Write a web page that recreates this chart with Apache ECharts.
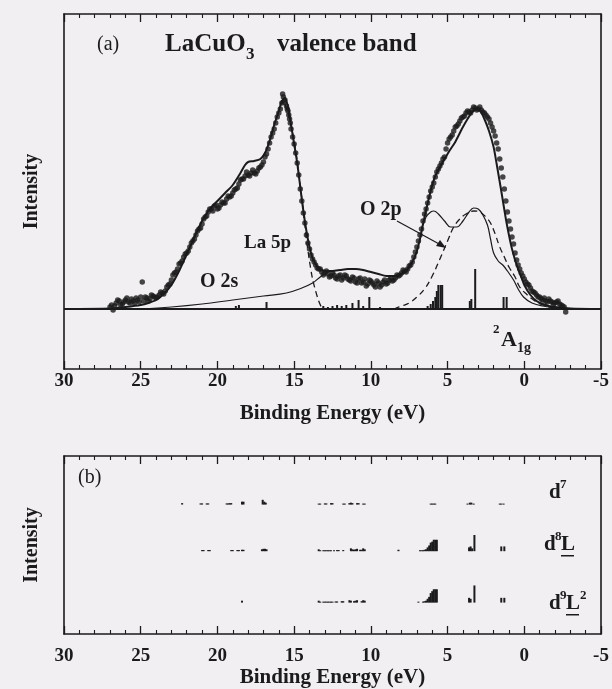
<!DOCTYPE html>
<html><head><meta charset="utf-8">
<script src="https://cdn.jsdelivr.net/npm/echarts@6/dist/echarts.min.js"></script>
<style>html,body{margin:0;padding:0;background:#f1eff1}#c{width:612px;height:689px}</style>
</head><body><div id="c"></div>
<script>
// Binding energy axis ticks (eV)
const xTicks = [30, 25, 20, 15, 10, 5, 0, -5];

// (a) experimental valence band points [E, intensity]
const expData = [
[27.0,2],[26.8,-1],[26.6,6],[26.4,8],[26.2,5],[26.0,9],[25.8,7],[25.6,10],[25.4,6],[25.2,9],[25.0,12],[24.9,27],
[24.8,8],[24.6,11],[24.4,10],[24.2,13],[24.0,11],[23.8,14],[23.6,16],[23.4,18],[23.2,24],[23.0,29],[22.8,36],
[22.6,40],[22.4,46],[22.2,52],[22.0,56],[21.8,62],[21.6,68],[21.4,74],[21.2,80],[21.0,85],[20.8,92],[20.6,97],
[20.4,100],[20.2,103],[20.0,100],[19.8,104],[19.6,106],[19.4,110],[19.2,112],[19.0,116],[18.8,120],[18.6,125],
[18.4,130],[18.2,133],[18.0,134],[17.8,136],[17.6,136],[17.4,138],[17.2,142],[17.0,147],[16.8,155],[16.6,166],
[16.4,176],[16.2,186],[16.0,196],[15.8,206],[15.7,212],[15.6,209],[15.5,203],[15.4,198],[15.3,190],[15.2,180],
[15.0,165],[14.8,146],[14.6,120],[14.4,96],[14.2,74],[14.0,60],[13.8,50],[13.6,44],[13.4,40],[13.2,37],[13.0,36],
[12.8,35],[12.6,33],[12.4,34],[12.2,30],[12.0,34],[11.8,31],[11.6,33],[11.4,29],[11.2,32],[11.0,27],[10.8,30],
[10.6,26],[10.4,30],[10.2,25],[10.0,28],[9.8,24],[9.6,28],[9.4,22],[9.2,27],[9.0,25],[8.8,29],[8.6,28],[8.4,31],
[8.2,33],[8.0,36],[7.8,38],[7.6,40],[7.4,44],[7.2,52],[7.0,62],[6.8,74],[6.6,88],[6.4,100],[6.2,112],[6.0,122],
[5.8,132],[5.6,140],[5.4,146],[5.2,152],[5.0,166],[4.8,172],[4.6,178],[4.4,183],[4.2,188],[4.0,192],[3.8,196],
[3.6,197],[3.4,199],[3.2,201],[3.0,200],[2.8,199],[2.6,196],[2.4,192],[2.2,186],[2.0,178],[1.8,166],[1.6,150],
[1.4,132],[1.2,108],[1.0,88],[0.8,72],[0.6,56],[0.4,44],[0.2,36],[0.0,30],[-0.2,25],[-0.4,21],[-0.6,17],
[-0.8,14],[-1.0,12],[-1.2,9],[-1.4,8],[-1.6,10],[-1.8,7],[-2.0,6],[-2.2,8],[-2.4,4],[-2.6,2],[-2.7,-3]
];
// (a) experimental points, second (interleaved) set
const expData2 = [
[26.9,4],[26.7,3],[26.5,9],[26.3,4],[26.1,7],[25.9,11],[25.7,6],[25.5,8],[25.3,11],[25.1,7],[24.7,12],[24.5,8],
[24.3,14],[24.1,12],[23.9,12],[23.7,17],[23.5,15],[23.3,22],[23.1,25],[22.9,34],[22.7,37],[22.5,45],[22.3,48],
[22.1,55],[21.9,58],[21.7,66],[21.5,70],[21.3,78],[21.1,81],[20.9,90],[20.7,93],[20.5,100],[20.3,98],[20.1,104],
[19.9,101],[19.7,107],[19.5,106],[19.3,113],[19.1,113],[18.9,119],[18.7,121],[18.5,129],[18.3,130],[18.1,137],
[17.9,133],[17.7,139],[17.5,135],[17.3,141],[17.1,144],[16.9,152],[16.7,160],[16.5,172],[16.3,180],[16.1,192],
[15.9,200],[15.75,215],[15.65,207],[15.45,200],[15.35,194],[15.25,186],[15.1,172],[14.9,156],[14.7,134],[14.5,108],
[14.3,86],[14.1,66],[13.9,54],[13.7,47],[13.5,41],[13.3,40],[13.1,34],[12.9,38],[12.7,32],[12.5,36],[12.3,31],
[12.1,33],[11.9,29],[11.7,34],[11.5,30],[11.3,28],[11.1,31],[10.9,26],[10.7,31],[10.5,27],[10.3,23],[10.1,29],
[9.9,26],[9.7,22],[9.5,26],[9.3,24],[9.1,29],[8.9,26],[8.7,31],[8.5,29],[8.3,34],[8.1,34],[7.9,39],[7.7,37],
[7.5,43],[7.3,47],[7.1,57],[6.9,68],[6.7,80],[6.5,95],[6.3,106],[6.1,118],[5.9,126],[5.7,137],[5.5,143],[5.3,150],
[5.1,160],[4.9,170],[4.7,174],[4.5,182],[4.3,185],[4.1,191],[3.9,193],[3.7,198],[3.5,196],[3.3,202],[3.1,199],
[2.9,202],[2.7,197],[2.5,194],[2.3,190],[2.1,182],[1.9,173],[1.7,160],[1.5,141],[1.3,120],[1.1,97],[0.9,80],
[0.7,65],[0.5,49],[0.3,40],[0.1,33],[-0.1,27],[-0.3,24],[-0.5,18],[-0.7,16],[-0.9,12],[-1.1,10],[-1.3,11],
[-1.5,7],[-1.7,8],[-1.9,5],[-2.1,7],[-2.3,5],[-2.5,3]
];

// (a) total calculated spectrum
const fitTotal = [
[30,0],[27,0.5],[26,2],[25,4],[24.5,6],[24,9],[23.5,15],[23,24],[22.5,38],[22,55],[21.5,72],[21,88],[20.5,100],
[20,108],[19.5,116],[19,124],[18.5,136],[18.2,144],[18.0,147],[17.6,148],[17.2,150],[16.9,156],[16.6,168],
[16.3,184],[16.0,198],[15.8,208],[15.6,211],[15.4,202],[15.2,184],[15.0,165],[14.8,146],[14.6,122],[14.4,98],
[14.2,78],[14.0,62],[13.8,51],[13.6,45],[13.4,41],[13.0,38],[12.5,38],[12.0,39],[11.5,40],[11.0,40],[10.5,39],
[10.0,37],[9.5,35],[9.0,33],[8.5,33],[8.0,35],[7.6,40],[7.2,50],[7.0,58],[6.8,70],[6.6,85],[6.4,99],[6.2,112],
[6.0,124],[5.8,133],[5.5,142],[5.2,150],[5.0,155],[4.8,160],[4.5,167],[4.2,176],[4.0,182],[3.7,190],[3.4,197],
[3.1,200],[2.9,199],[2.6,190],[2.3,178],[2.0,162],[1.8,145],[1.5,118],[1.2,90],[1.0,74],[0.8,60],[0.5,44],
[0.2,32],[0.0,24],[-0.4,14],[-0.8,8],[-1.2,5],[-1.6,3],[-2.0,2],[-3.0,0.5],[-5,0]
];

// (a) O 2s partial (thin solid)
const o2sComp = [[25,0],[23,2],[21,5],[19,9],[17,13],[15.5,16],[14.5,21],[13.8,26],[13.3,32],[12.8,37]];

// (a) thin solid partial in valence region
const thinComp = [
[6.7,80],[6.4,92],[6.1,97],[5.9,98],[5.6,95],[5.2,88],[4.8,82],[4.4,82],[4.0,88],[3.6,97],[3.3,101],[3.0,100],
[2.7,94],[2.4,84],[2.2,70],[2.0,56],[1.7,48],[1.4,44],[1.1,38],[0.7,29],[0.4,20],[0.05,12],[-0.5,6],[-1.2,3],[-2.5,0.5]
];

// (a) dashed partial in valence region
const dashedComp = [
[8.5,0],[8.0,3],[7.5,6],[7.0,12],[6.5,20],[6.0,33],[5.5,50],[5.0,68],[4.6,82],[4.2,90],[3.8,95],[3.3,98],
[2.9,97],[2.5,92],[2.2,86],[1.9,75],[1.6,62],[1.3,52],[1.0,42],[0.6,32],[0.3,22],[-0.2,14],[-0.6,9],[-1.2,4],[-2.0,1],[-3.0,0]
];

// (a) La 5p partial (dashed)
const la5pComp = [[15.6,205],[15.3,190],[15.0,168],[14.8,148],[14.6,123],[14.4,98],[14.2,70],[14.0,48],[13.8,30],[13.6,18],[13.4,8],[13.2,1]];

// (a) final-state sticks [E, height]
const sticksTop = [
[18.8,3],[18.6,4],[16.8,7],[13.1,3],[12.8,2],[12.5,3],[12.2,4],[11.9,3],[11.6,4],[11.2,6],[10.8,9],[10.5,3],[10.1,12],
[9.4,2],[6.3,3],[6.1,5],[5.95,8],[5.8,12],[5.7,18],[5.6,24],[5.45,24],[5.35,24],[3.55,8],[3.45,10],[3.2,40],[1.35,12],[1.15,12]
];

// (b) weights for each configuration [E, height]
const sticksD7 = [
[22.3,1.5],[21.1,1.2],[21.0,1.2],[20.7,1.2],[20.6,1.2],[19.4,1.2],[19.3,1.2],[19.2,1.5],[19.1,1.5],[18.4,3],[18.3,3],
[17.05,5],[16.95,3],[16.85,2],[13.4,1],[13.3,1],[13.0,1.2],[12.9,1.2],[12.6,1.5],[12.5,1.5],[11.8,1],[11.7,1],
[11.4,1.5],[11.3,2],[11.2,1.5],[10.9,1.5],[10.8,1.5],[10.5,1],[10.4,1],[6.1,1],[6.0,1],[5.9,1],[5.8,1],
[3.7,1],[3.55,2],[3.45,2],[3.3,1],[1.6,1],[1.5,1],[1.35,1]
];
const sticksD8L = [
[21.0,1.2],[20.9,1.2],[20.6,1.2],[20.5,1.2],[19.1,1.2],[19.0,1.2],[18.7,1.2],[18.6,1.2],[18.4,1.5],[18.3,1.5],
[17.1,2],[17.0,2.5],[16.9,2.5],[16.8,2],[13.4,2],[13.3,1],[13.1,1],[13.0,1],[12.9,1],[12.8,1],[12.7,1],[12.6,1],
[12.4,1],[12.2,1.2],[12.1,1.2],[11.8,1.2],[11.3,3],[11.2,2],[11.1,1.5],[11.0,2],[10.9,2.5],[10.7,1.5],[10.6,1.5],
[10.5,3],[10.4,2],[8.2,1.5],[6.8,1],[6.7,1],[6.6,1],[6.5,1.5],[6.4,2],[6.3,4],[6.2,6],[6.1,9],[6.0,10],[5.9,12],
[5.8,12],[5.7,12],[3.6,4],[3.5,5],[3.4,3],[3.25,17],[1.5,5],[1.3,5]
];
const sticksD9L2 = [
[18.4,2],[13.4,2],[13.3,1],[13.1,1],[13.0,1],[12.9,1],[12.8,1],[12.7,1],[12.6,1],[12.5,1],[12.3,1.2],[12.2,1.2],
[11.9,1.5],[11.8,1.5],[11.4,2.5],[11.3,2],[11.1,1.5],[11.0,2],[10.9,2.5],[10.6,1.5],[10.5,2.5],[10.4,2],[6.9,1],
[6.6,1],[6.5,1.5],[6.4,2],[6.3,4],[6.2,6],[6.1,10],[6.0,12],[5.9,14],[5.8,14],[5.7,14],[3.6,5],[3.5,4],[3.25,18],
[1.5,5],[1.3,5]
];
const rowBase = { d7: 136, d8L: 87, d9L2: 33 };

const INK = '#1b1a1c';
const SERIF = '"Liberation Serif", "DejaVu Serif", serif';

function xAx(gridIndex, position, showLabels, name, margin, nameGap) {
  return {
    type: 'value', gridIndex, position, inverse: true, min: -5, max: 30, interval: 5,
    axisLine: { show: true, onZero: false, lineStyle: { color: INK, width: 1.6 } },
    axisTick: { show: true, inside: true, length: 8, lineStyle: { color: INK, width: 1.3 } },
    minorTick: { show: true, splitNumber: 5, length: 4, lineStyle: { color: INK, width: 1.1 } },
    splitLine: { show: false }, minorSplitLine: { show: false },
    axisLabel: { show: showLabels, color: INK, fontFamily: SERIF, fontWeight: 'bold', fontSize: 19, margin: margin || 4,
      formatter: v => xTicks.includes(v) ? String(v) : '' },
    name: name || '', nameLocation: 'middle', nameGap: nameGap || 30,
    nameTextStyle: { color: INK, fontFamily: SERIF, fontWeight: 'bold', fontSize: 21 }
  };
}
function yAx(gridIndex, position, min, max, name) {
  return {
    type: 'value', gridIndex, position, min, max,
    axisLine: { show: true, onZero: false, lineStyle: { color: INK, width: 1.6 } },
    axisTick: { show: false }, axisLabel: { show: false }, splitLine: { show: false },
    name: name || '', nameLocation: 'middle', nameGap: 22, nameRotate: 90,
    nameTextStyle: { color: INK, fontFamily: SERIF, fontWeight: 'bold', fontSize: 20 }
  };
}
function stickSeries(data, base, xi, yi, w) {
  return {
    type: 'custom', xAxisIndex: xi, yAxisIndex: yi, data, silent: true, z: 4,
    encode: { x: 0, y: 1 },
    renderItem: (params, api) => {
      const e = api.value(0), h = api.value(1);
      const p0 = api.coord([e, base]);
      const p1 = api.coord([e, base + h]);
      return { type: 'rect', shape: { x: p0[0] - w / 2, y: p1[1], width: w, height: Math.max(p0[1] - p1[1], 1) },
        style: { fill: INK } };
    }
  };
}
function lineSeries(data, width, type, smooth) {
  return { type: 'line', xAxisIndex: 0, yAxisIndex: 0, data, showSymbol: false, symbol: 'none', smooth: smooth,
    silent: true, lineStyle: { color: INK, width, type }, z: 3 };
}
function dots(data) {
  return { type: 'scatter', xAxisIndex: 0, yAxisIndex: 0, data, symbol: 'circle', symbolSize: 5.5,
    itemStyle: { color: INK }, silent: true, z: 5 };
}

const chart = echarts.init(document.getElementById('c'), null, { renderer: 'canvas' });
const txt = (left, top, text, size, weight) => ({
  type: 'text', left, top, silent: true,
  style: { text, fill: INK, font: (weight || 'bold') + ' ' + size + 'px ' + SERIF }
});

chart.setOption({
  backgroundColor: '#f1eff1',
  animation: false,
  grid: [
    { left: 64, top: 14, width: 537, height: 355 },
    { left: 64, top: 456, width: 537, height: 187 }
  ],
  xAxis: [
    xAx(0, 'bottom', true, 'Binding Energy (eV)', 3, 34),
    xAx(0, 'top', false),
    xAx(1, 'bottom', true, 'Binding Energy (eV)', 13, 33),
    xAx(1, 'top', false)
  ],
  yAxis: [
    yAx(0, 'left', -60, 295, 'Intensity'),
    yAx(0, 'right', -60, 295),
    yAx(1, 'left', 0, 187, 'Intensity'),
    yAx(1, 'right', 0, 187)
  ],
  series: [
    Object.assign(lineSeries(fitTotal, 2, 'solid', 0.25), {
      markLine: { silent: true, symbol: 'none', label: { show: false },
        lineStyle: { color: INK, width: 2, type: 'solid' }, data: [{ yAxis: 0 }] }
    }),
    lineSeries(o2sComp, 1.2, 'solid', 0.4),
    lineSeries(thinComp, 1.2, 'solid', 0.4),
    lineSeries(dashedComp, 1.3, [6, 4], 0.4),
    lineSeries(la5pComp, 1.3, [6, 4], 0.3),
    dots(expData),
    dots(expData2),
    stickSeries(sticksTop, 0, 0, 0, 2),
    stickSeries(sticksD7, rowBase.d7, 2, 2, 2),
    stickSeries(sticksD8L, rowBase.d8L, 2, 2, 2),
    stickSeries(sticksD9L2, rowBase.d9L2, 2, 2, 2)
  ],
  graphic: [
    txt(97, 35, '(a)', 20, 'normal'),
    txt(165, 32, 'LaCuO', 25, 'bold'),
    txt(246, 46, '3', 17, 'bold'),
    txt(277, 32, 'valence band', 25, 'bold'),
    txt(244, 234, 'La 5p', 19, 'bold'),
    txt(200, 272, 'O 2s', 20, 'bold'),
    txt(360, 200, 'O 2p', 20, 'bold'),
    { type: 'line', silent: true, shape: { x1: 397, y1: 221, x2: 441, y2: 245 }, style: { stroke: INK, lineWidth: 1.2 } },
    { type: 'polygon', silent: true, shape: { points: [[446, 248], [436, 246], [440, 240]] }, style: { fill: INK } },
    txt(493, 323, '2', 13, 'bold'),
    txt(501, 329, 'A', 22, 'bold'),
    txt(517, 341, '1g', 14, 'bold'),
    txt(78, 468, '(b)', 20, 'normal'),
    txt(549, 482, 'd', 21, 'bold'),
    txt(560, 478, '7', 13, 'bold'),
    txt(544, 534, 'd', 21, 'bold'),
    txt(555, 530, '8', 13, 'bold'),
    txt(561, 534, 'L', 21, 'bold'),
    { type: 'rect', silent: true, shape: { x: 561, y: 555, width: 13, height: 1.5 }, style: { fill: INK } },
    txt(549, 593, 'd', 21, 'bold'),
    txt(560, 589, '9', 13, 'bold'),
    txt(566, 593, 'L', 21, 'bold'),
    txt(580, 589, '2', 13, 'bold'),
    { type: 'rect', silent: true, shape: { x: 566, y: 614, width: 13, height: 1.5 }, style: { fill: INK } }
  ]
});
</script>
</body></html>
